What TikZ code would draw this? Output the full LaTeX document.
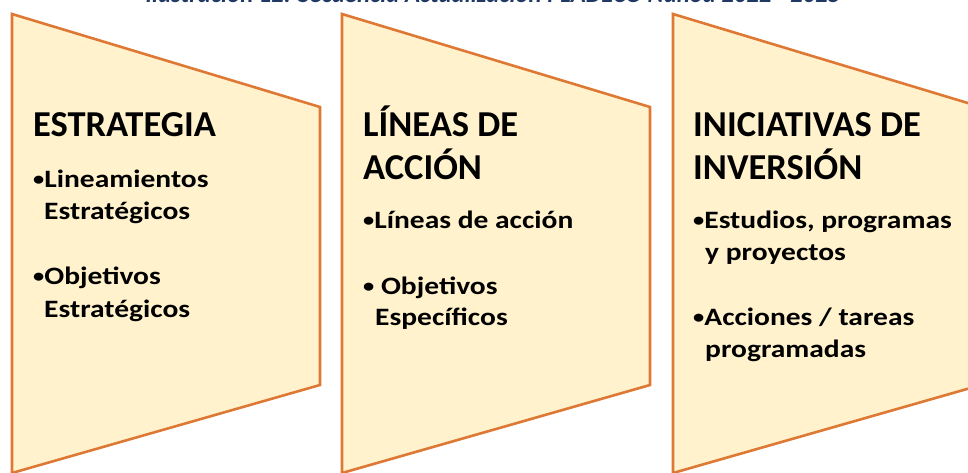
\documentclass[tikz,border=0pt]{standalone}
\usepackage{fontspec}
\setmainfont{Carlito}
\newfontfamily\itemfont[FakeStretch=1.18]{Carlito}
\newcommand\mybul{{\fontsize{19}{20}\selectfont\raisebox{1.2pt}{•}}}
\definecolor{orng}{HTML}{DE7935}
\definecolor{pfill}{HTML}{FFF2CC}
\definecolor{tblue}{HTML}{203864}
\begin{document}
\begin{tikzpicture}[x=1pt,y=-1pt,
  panel/.style={draw=orng, fill=pfill, line width=2.6pt, line join=miter},
  head/.style={anchor=base west, inner sep=0pt, font=\fontsize{36.5}{40}\selectfont\bfseries},
  item/.style={anchor=base west, inner sep=0pt, font=\itemfont\fontsize{25}{28}\selectfont\bfseries}]
\useasboundingbox (0,0) rectangle (968,473);
\clip (0,0) rectangle (968,473);
% panels
\path[panel] (12,14) -- (320,107) -- (320,385) -- (12,473) -- cycle;
\path[panel] (342,14) -- (650,107) -- (650,385) -- (342,473) -- cycle;
\path[panel] (673,14) -- (981,107) -- (981,385) -- (673,473) -- cycle;
% title
\node[anchor=base, inner sep=0pt, text=tblue, font=\fontsize{24.7}{28}\selectfont\bfseries\itshape] (title) at (493,3) {Ilustración 12: Secuencia Actualización PLADECO Ñuñoa 2022 - 2025};
% panel 1
\node[head] (h1) at (33,137) {ESTRATEGIA};
\node[item] (a1) at (33,187) {\mybul Lineamientos};
\node[item] (a2) at (44,219) {Estratégicos};
\node[item] (a3) at (33,284) {\mybul Objetivos};
\node[item] (a4) at (44,317) {Estratégicos};
% panel 2
\node[head] (h2) at (363,137) {LÍNEAS DE};
\node[head] (h3) at (363,179) {ACCIÓN};
\node[item] (b1) at (363,228) {\mybul Líneas de acción};
\node[item] (b2) at (363,294) {\mybul{} Objetivos};
\node[item] (b3) at (375,325) {Específicos};
% panel 3
\node[head] (h4) at (693,137) {INICIATIVAS DE};
\node[head] (h5) at (693,179) {INVERSIÓN};
\node[item] (c1) at (693,228) {\mybul Estudios, programas};
\node[item] (c2) at (705,260) {y proyectos};
\node[item] (c3) at (693,325) {\mybul Acciones / tareas};
\node[item] (c4) at (705,357) {programadas};
\end{tikzpicture}
\end{document}
